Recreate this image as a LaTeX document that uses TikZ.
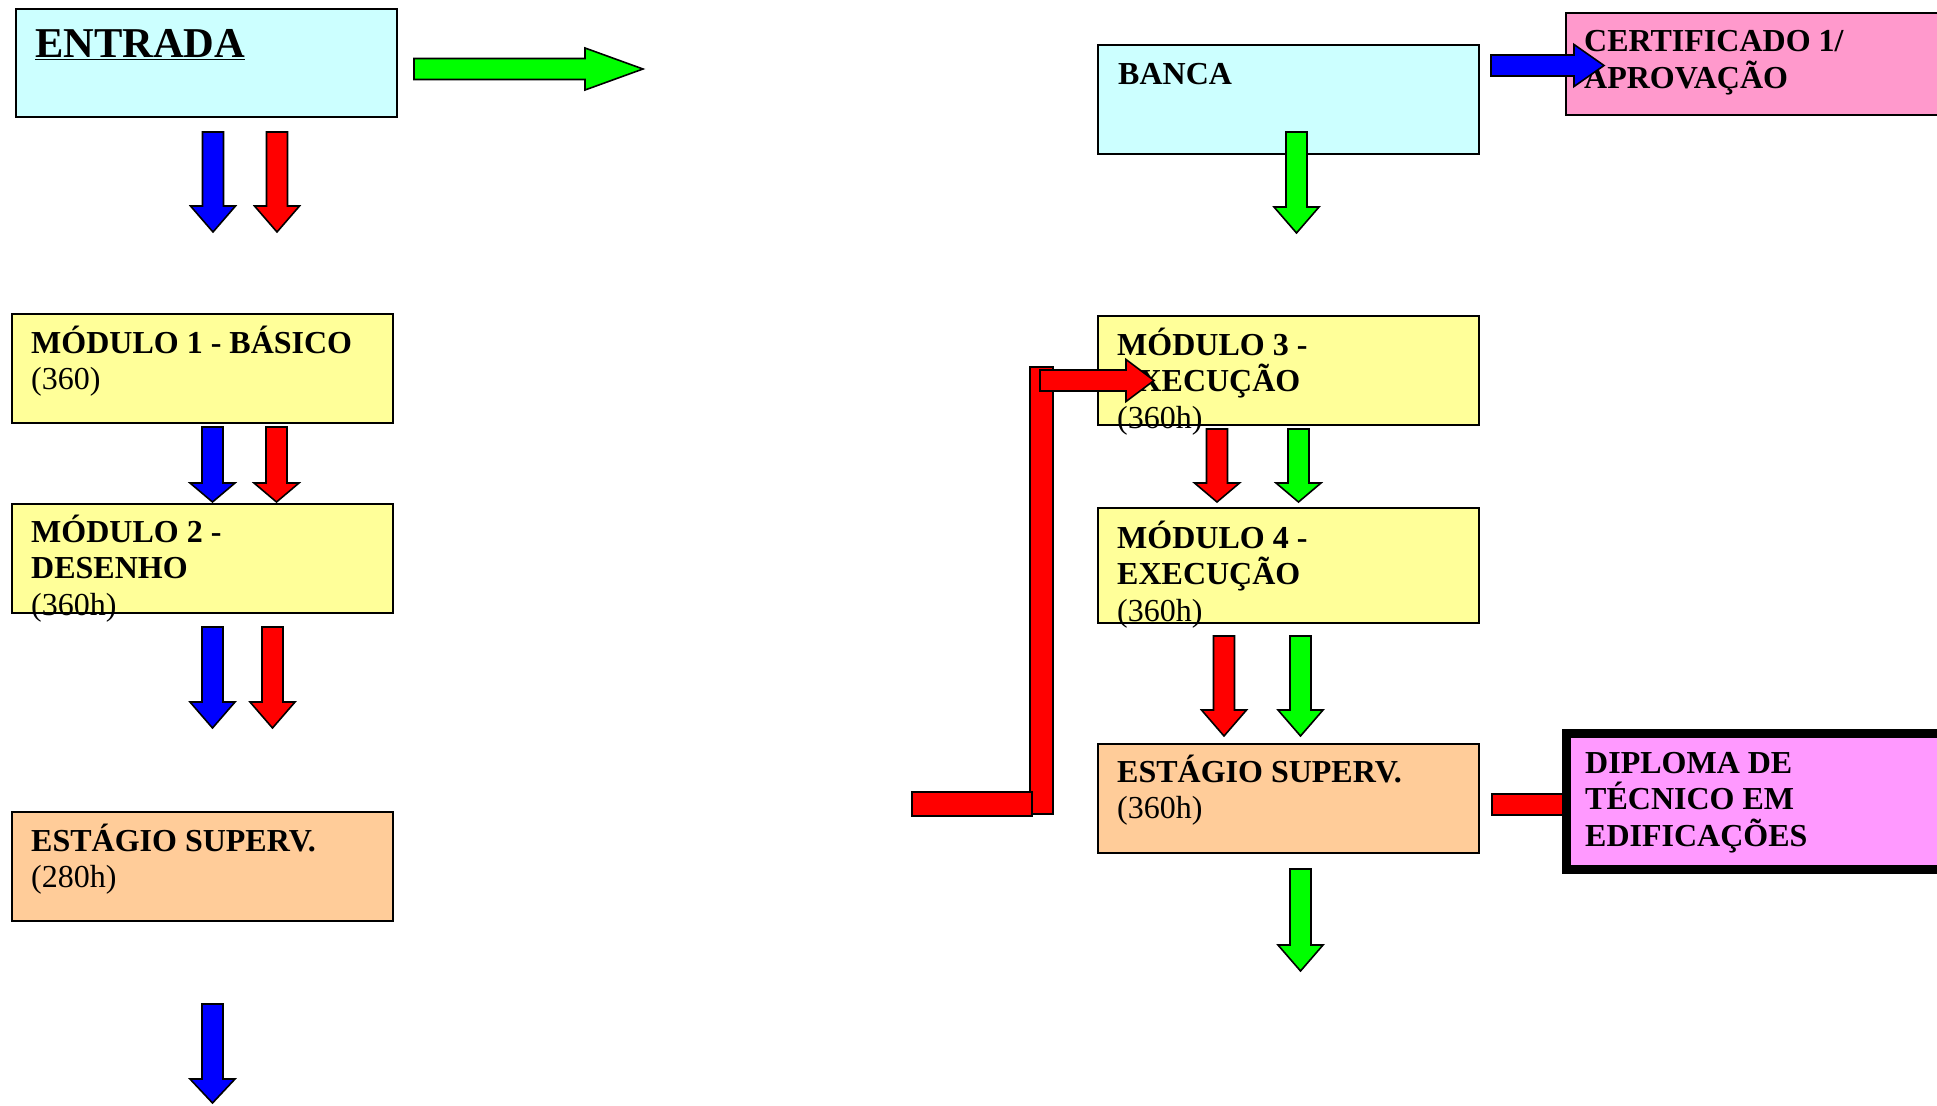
\documentclass[tikz,border=0pt]{standalone}
\usepackage{fontspec}
\setmainfont{Liberation Serif}
\definecolor{cyanbox}{HTML}{CCFFFF}
\definecolor{yelbox}{HTML}{FFFF99}
\definecolor{orabox}{HTML}{FFCC99}
\definecolor{certbox}{HTML}{FF99CC}
\definecolor{diplbox}{HTML}{FF99FF}
\definecolor{arblue}{HTML}{0000FF}
\definecolor{arred}{HTML}{FF0000}
\definecolor{argreen}{HTML}{00FF00}
\tikzset{
  boxst/.style={draw=black, line width=2pt, rectangle, inner sep=0pt, anchor=north west},
  lbl/.style={inner sep=0pt, anchor=base west, font=\fontsize{32}{36.5}\selectfont\bfseries},
  blockar/.style={draw=black, line width=1.6pt, line join=miter},
}
\newcommand\dnarrow[5]{%
  \filldraw[blockar, fill=#1] ({#2-10.5},#3) -- ({#2+10.5},#3) -- ({#2+10.5},#4) -- ({#2+22.5},#4) -- (#2,#5) -- ({#2-22.5},#4) -- ({#2-10.5},#4) -- cycle;}
\newcommand\rtarrow[5]{%
  \filldraw[blockar, fill=#1] (#2,{#5-10.5}) -- (#3,{#5-10.5}) -- (#3,{#5-21}) -- (#4,#5) -- (#3,{#5+21}) -- (#3,{#5+10.5}) -- (#2,{#5+10.5}) -- cycle;}
\begin{document}
\begin{tikzpicture}[x=1pt, y=-1pt]
\useasboundingbox (0,0) rectangle (1937,1105);
\fill[white] (0,0) rectangle (1937,1105);
\clip (0,0) rectangle (1937,1105);

% left column boxes
\node[boxst, fill=cyanbox, minimum width=381, minimum height=108] (entrada) at (15,8) {};
\node[boxst, fill=yelbox, minimum width=381, minimum height=109] (m1) at (11,313) {};
\node[boxst, fill=yelbox, minimum width=381, minimum height=109] (m2) at (11,503) {};
\node[boxst, fill=orabox, minimum width=381, minimum height=109] (est1) at (11,811) {};

% right column boxes
\node[boxst, fill=cyanbox, minimum width=381, minimum height=109] (banca) at (1097,44) {};
\node[boxst, fill=certbox, minimum width=400, minimum height=102] (cert) at (1565,12) {};
\node[boxst, fill=yelbox, minimum width=381, minimum height=109] (m3) at (1097,315) {};
\node[boxst, fill=yelbox, minimum width=381, minimum height=115] (m4) at (1097,507) {};
\node[boxst, fill=orabox, minimum width=381, minimum height=109] (est2) at (1097,743) {};

% texts
\node[inner sep=0pt, anchor=base west, font=\fontsize{42.5}{48}\selectfont\bfseries] (entradat) at (35,58) {\underline{ENTRADA}};
\node[lbl] (m1t) at (31,353) {\vtop{\hbox{MÓDULO 1 - BÁSICO}\hbox{\mdseries (360)}}};
\node[lbl] (m2t) at (31,542) {\vtop{\hbox{MÓDULO 2 -}\hbox{DESENHO}\hbox{\mdseries (360h)}}};
\node[lbl] (est1t) at (31,851) {\vtop{\hbox{ESTÁGIO SUPERV.}\hbox{\mdseries (280h)}}};
\node[lbl] (bancat) at (1118,85) {BANCA};
\node[lbl] (certt) at (1584,52) {\vtop{\hbox{CERTIFICADO 1/}\hbox{APROVAÇÃO}}};
\node[lbl] (m3t) at (1117,355) {\vtop{\hbox{MÓDULO 3 -}\hbox{EXECUÇÃO}\hbox{\mdseries (360h)}}};
\node[lbl] (m4t) at (1117,548) {\vtop{\hbox{MÓDULO 4 -}\hbox{EXECUÇÃO}\hbox{\mdseries (360h)}}};
\node[lbl] (est2t) at (1117,782) {\vtop{\hbox{ESTÁGIO SUPERV.}\hbox{\mdseries (360h)}}};

% left arrows
\rtarrow{argreen}{414}{585}{643}{69}
\dnarrow{arblue}{213}{132}{206}{232}
\dnarrow{arred}{277}{132}{206}{232}
\dnarrow{arblue}{212.5}{427}{483}{502}
\dnarrow{arred}{276.5}{427}{483}{502}
\dnarrow{arblue}{212.5}{627}{702}{728}
\dnarrow{arred}{272.5}{627}{702}{728}
\dnarrow{arblue}{212.5}{1004}{1079}{1103}

% right arrows
\rtarrow{arblue}{1491}{1574}{1604}{65.5}
\dnarrow{argreen}{1296.5}{132}{207}{233}
\dnarrow{arred}{1217}{429}{483}{502}
\dnarrow{argreen}{1298.5}{429}{483}{502}
\dnarrow{arred}{1224}{636}{710}{736}
\dnarrow{argreen}{1300.5}{636}{710}{736}
\dnarrow{argreen}{1300.5}{869}{945}{971}

% red return path
\filldraw[blockar, fill=arred] (1030,367) rectangle (1053,814);
\filldraw[blockar, fill=arred] (912,792) rectangle (1032,816);
\rtarrow{arred}{1040}{1126}{1154}{380.5}

% red bar to diploma
\filldraw[blockar, fill=arred] (1492,794) rectangle (1568,815);

% diploma box
\node[draw=black, line width=9pt, rectangle, inner sep=0pt, anchor=north west, fill=diplbox, minimum width=420, minimum height=136] (dipl) at (1562,729) {};
\node[lbl] (diplt) at (1585,773) {\vtop{\hbox{DIPLOMA DE}\hbox{TÉCNICO EM}\hbox{EDIFICAÇÕES}}};
\end{tikzpicture}
\end{document}
